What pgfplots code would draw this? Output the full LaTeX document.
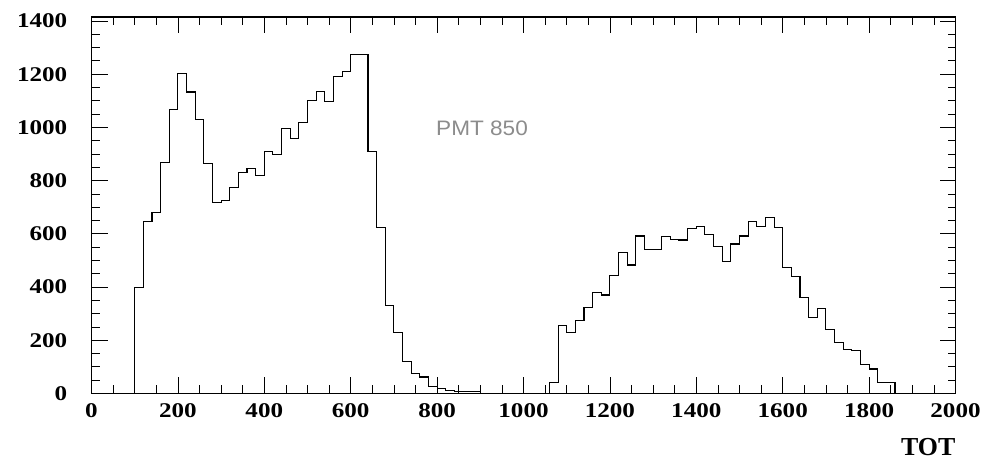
\documentclass[border=0pt]{standalone}
\usepackage{fontspec}
\setmainfont{Liberation Serif}
\newfontfamily\tickfont[FakeStretch=1.2]{Liberation Serif}
\newfontfamily\annfont[FakeStretch=1.08]{Liberation Sans}
\usepackage{pgfplots}
\pgfplotsset{compat=1.18}
\begin{document}
\begin{tikzpicture}
\useasboundingbox (0,0) rectangle (1002bp,459bp);
\begin{axis}[
  at={(91.5bp,65.5bp)}, anchor=south west,
  width=864bp, height=376.5bp, scale only axis,
  xmin=0, xmax=2000, ymin=0, ymax=1415,
  xtick distance=200, ytick distance=200,
  minor x tick num=3, minor y tick num=3,
  tick align=inside, tick pos=both,
  major tick length=16bp, minor tick length=8bp,
  every tick/.style={black, line width=0.8bp},
  axis line style={black, line width=1.2bp},
  /pgf/number format/assume math mode=true,
  /pgf/number format/set thousands separator={},
  ticklabel style={font=\fontsize{21}{21}\selectfont\tickfont\bfseries},
  yticklabel style={anchor=east, inner sep=0pt, xshift=-24bp},
  xticklabel style={anchor=north, inner sep=0pt, yshift=-9.5bp},
  xlabel={TOT},
  xlabel style={font=\fontsize{26}{26}\selectfont\bfseries, at={(axis description cs:1,0)}, anchor=base east, inner sep=0pt, yshift=-61.5bp},
]
\addplot[const plot mark left, black, line width=1.1bp] coordinates {
(0,0) (100,400) (120,645) (140,680) (160,868) (180,1068) (200,1202) (220,1133)
(240,1030) (260,864) (280,718) (300,724) (320,773) (340,830) (360,846) (380,820)
(400,910) (420,899) (440,995) (460,960) (480,1018) (500,1100) (520,1135) (540,1098)
(560,1190) (580,1210) (600,1273) (620,1273) (640,911) (660,624) (680,330) (700,230)
(720,120) (740,75) (760,62) (780,26) (800,18) (820,10) (840,8) (860,8) (880,8)
(900,0) (920,0) (940,0) (960,0) (980,0) (1000,0) (1020,0) (1040,0)
(1060,42) (1080,254) (1100,228) (1120,275) (1140,323) (1160,380) (1180,370)
(1200,445) (1220,530) (1240,483) (1260,592) (1280,540) (1300,540) (1320,590)
(1340,580) (1360,577) (1380,620) (1400,626) (1420,598) (1440,551) (1460,495)
(1480,562) (1500,592) (1520,645) (1540,626) (1560,662) (1580,624) (1600,473)
(1620,440) (1640,360) (1660,287) (1680,318) (1700,240) (1720,192) (1740,165)
(1760,160) (1780,110) (1800,92) (1820,40) (1840,40) (1860,0) (2000,0)
};
\node[font=\fontsize{21}{21}\selectfont\annfont, text=black!45, anchor=center] at (axis cs:904,995) {PMT 850};
\end{axis}
\end{tikzpicture}
\end{document}
